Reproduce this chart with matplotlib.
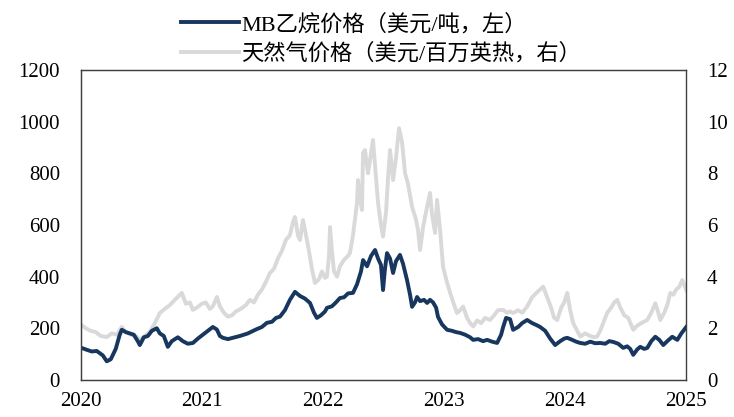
import matplotlib as mpl
mpl.use('Agg')
import matplotlib.pyplot as plt

# MB ethane price (USD/t, left axis); x = years since 2020-01-01
eth_t = [0.000, 0.041, 0.091, 0.132, 0.182, 0.215, 0.248, 0.289, 0.322, 0.339,
         0.372, 0.405, 0.438, 0.471, 0.488, 0.521, 0.554, 0.587, 0.628, 0.653,
         0.686, 0.719, 0.752, 0.802, 0.843, 0.884, 0.926, 0.967, 1.008, 1.050,
         1.091, 1.124, 1.149, 1.174, 1.215, 1.256, 1.314, 1.380, 1.446, 1.496,
         1.537, 1.579, 1.612, 1.645, 1.686, 1.727, 1.769, 1.810, 1.851, 1.893,
         1.926, 1.950, 1.983, 2.017, 2.033, 2.074, 2.107, 2.140, 2.174, 2.207,
         2.248, 2.281, 2.314, 2.331, 2.364, 2.397, 2.430, 2.455, 2.479, 2.496,
         2.512, 2.529, 2.554, 2.579, 2.603, 2.636, 2.661, 2.694, 2.719, 2.736,
         2.760, 2.777, 2.802, 2.835, 2.860, 2.884, 2.909, 2.934, 2.950, 2.983,
         3.025, 3.066, 3.099, 3.132, 3.174, 3.215, 3.240, 3.281, 3.322, 3.355,
         3.397, 3.438, 3.471, 3.488, 3.512, 3.545, 3.570, 3.612, 3.645, 3.686,
         3.727, 3.760, 3.793, 3.835, 3.876, 3.917, 3.959, 3.992, 4.017, 4.058,
         4.091, 4.124, 4.165, 4.207, 4.248, 4.289, 4.331, 4.364, 4.397, 4.438,
         4.479, 4.512, 4.537, 4.562, 4.595, 4.620, 4.653, 4.678, 4.711, 4.744,
         4.777, 4.810, 4.843, 4.884, 4.909, 4.926, 4.959, 5.000]
eth_val = [125, 118, 110, 112, 95, 72, 80, 120, 175, 194,
           185, 180, 175, 150, 135, 165, 170, 190, 200, 180,
           170, 128, 150, 165, 150, 140, 143, 160, 175, 190,
           205, 195, 170, 163, 158, 163, 170, 180, 195, 205,
           221, 225, 240, 245, 270, 310, 341, 325, 315, 298,
           260, 240, 250, 265, 279, 285, 300, 317, 320, 335,
           337, 370, 420, 464, 440, 480, 503, 470, 445, 348,
           430, 491, 470, 414, 460, 484, 450, 387, 330, 283,
           300, 321, 305, 310, 298, 310, 300, 280, 244, 215,
           194, 190, 185, 182, 175, 165, 155, 158, 150, 155,
           148, 143, 175, 205, 240, 235, 194, 205, 220, 232,
           220, 213, 205, 190, 160, 135, 150, 160, 163, 155,
           148, 143, 140, 148, 142, 143, 140, 150, 147, 140,
           124, 130, 120, 97, 118, 128, 120, 124, 150, 167,
           155, 135, 150, 167, 160, 155, 180, 205]

# natural gas price (USD/MMBtu, right axis)
gas_t = [0.000, 0.041, 0.083, 0.124, 0.165, 0.215, 0.256, 0.298, 0.339, 0.372,
         0.413, 0.455, 0.488, 0.529, 0.570, 0.612, 0.653, 0.694, 0.736, 0.777,
         0.835, 0.868, 0.901, 0.926, 0.959, 1.000, 1.033, 1.066, 1.091, 1.124,
         1.149, 1.182, 1.215, 1.248, 1.281, 1.322, 1.364, 1.397, 1.430, 1.463,
         1.496, 1.529, 1.562, 1.595, 1.628, 1.661, 1.694, 1.727, 1.752, 1.769,
         1.793, 1.810, 1.835, 1.860, 1.884, 1.909, 1.934, 1.967, 1.992, 2.017,
         2.033, 2.050, 2.058, 2.074, 2.091, 2.116, 2.140, 2.174, 2.207, 2.223,
         2.248, 2.264, 2.281, 2.289, 2.306, 2.322, 2.331, 2.347, 2.372, 2.388,
         2.413, 2.430, 2.455, 2.479, 2.496, 2.521, 2.537, 2.554, 2.579, 2.603,
         2.628, 2.653, 2.678, 2.702, 2.736, 2.769, 2.785, 2.802, 2.826, 2.851,
         2.884, 2.901, 2.926, 2.942, 2.967, 2.992, 3.017, 3.050, 3.083, 3.107,
         3.132, 3.157, 3.190, 3.215, 3.240, 3.273, 3.306, 3.339, 3.380, 3.413,
         3.446, 3.488, 3.521, 3.545, 3.570, 3.612, 3.645, 3.686, 3.727, 3.769,
         3.818, 3.851, 3.884, 3.909, 3.934, 3.967, 3.992, 4.017, 4.041, 4.066,
         4.099, 4.124, 4.165, 4.207, 4.240, 4.264, 4.289, 4.314, 4.347, 4.380,
         4.405, 4.430, 4.455, 4.488, 4.521, 4.562, 4.595, 4.628, 4.678, 4.711,
         4.744, 4.769, 4.785, 4.818, 4.843, 4.868, 4.893, 4.917, 4.942, 4.967,
         5.000]
gas_val = [2.15, 2.0, 1.9, 1.85, 1.7, 1.66, 1.8, 1.75, 2.05, 1.85,
           1.75, 1.7, 1.55, 1.7, 1.86, 2.2, 2.59, 2.75, 2.9, 3.1,
           3.37, 2.95, 3.0, 2.71, 2.8, 2.95, 3.0, 2.75, 2.85, 3.21,
           2.85, 2.6, 2.45, 2.5, 2.65, 2.75, 2.9, 3.1, 3.0, 3.3,
           3.5, 3.8, 4.14, 4.3, 4.7, 5.0, 5.42, 5.6, 6.1, 6.31,
           5.6, 5.42, 6.19, 5.6, 5.0, 4.3, 3.75, 3.9, 4.2, 3.95,
           4.0, 4.8, 5.92, 5.0, 4.2, 4.0, 4.4, 4.65, 4.8, 4.92,
           5.6, 6.19, 6.85, 7.74, 7.0, 6.58, 8.79, 8.9, 8.0, 8.5,
           9.29, 8.3, 6.85, 6.0, 5.55, 6.5, 7.8, 8.9, 7.74, 8.6,
           9.75, 9.2, 8.0, 7.6, 6.7, 6.2, 5.8, 5.03, 5.9, 6.5,
           7.24, 6.4, 5.69, 6.97, 5.8, 4.37, 3.9, 3.37, 2.9, 2.59,
           2.7, 2.84, 2.4, 2.2, 2.07, 2.3, 2.2, 2.4, 2.32, 2.5,
           2.7, 2.71, 2.6, 2.65, 2.59, 2.7, 2.6, 2.84, 3.2, 3.4,
           3.61, 3.2, 2.8, 2.4, 2.32, 2.8, 3.0, 3.37, 2.7, 2.2,
           1.9, 1.68, 1.8, 1.7, 1.65, 1.68, 1.9, 2.2, 2.6, 2.8,
           3.0, 3.1, 2.8, 2.5, 2.4, 1.94, 2.1, 2.2, 2.32, 2.6,
           2.97, 2.6, 2.32, 2.6, 2.9, 3.37, 3.3, 3.5, 3.6, 3.87,
           3.48]

years = [2020, 2021, 2022, 2023, 2024, 2025]
labels = ['MB乙烷价格（美元/吨，左）', '天然气价格（美元/百万英热，右）']

plt.rcParams['font.family'] = ['Liberation Serif', 'Noto Sans CJK SC']

fig = plt.figure(figsize=(7.34, 4.17), dpi=100)
ax = fig.add_axes([0.110, 0.089, 0.825, 0.743])
ax2 = ax.twinx()

eth_x = [2020 + t for t in eth_t]
gas_x = [2020 + t for t in gas_t]

# gas line sits behind the ethane line
l2, = ax2.plot(gas_x, gas_val, color='#d9d9d9', lw=2.8, label=labels[1])
l1, = ax.plot(eth_x, eth_val, color='#17375e', lw=2.8, label=labels[0])
ax.set_zorder(ax2.get_zorder() + 1)
ax.patch.set_visible(False)

ax.set_xlim(2020, 2025)
ax.set_ylim(0, 1200)
ax2.set_ylim(0, 12)
ax.set_xticks(years)
ax.set_xticklabels([str(y) for y in years])
ax.set_yticks(range(0, 1201, 200))
ax2.set_yticks(range(0, 13, 2))

for a in (ax, ax2):
    a.tick_params(length=0, labelsize=15, colors='black')
    for s in a.spines.values():
        s.set_color('#404040')
        s.set_linewidth(0.9)
ax2.spines['right'].set_color('#808080')
ax.tick_params(axis='x', pad=9)
ax.tick_params(axis='y', pad=15)
ax2.tick_params(axis='y', pad=15)

fig.legend([l1, l2], labels, loc='upper left', bbox_to_anchor=(0.22, 1.015),
           frameon=False, handlelength=2.6, handletextpad=0.1,
           labelspacing=0.35, fontsize=16)

fig.savefig('out.png', dpi=100)
